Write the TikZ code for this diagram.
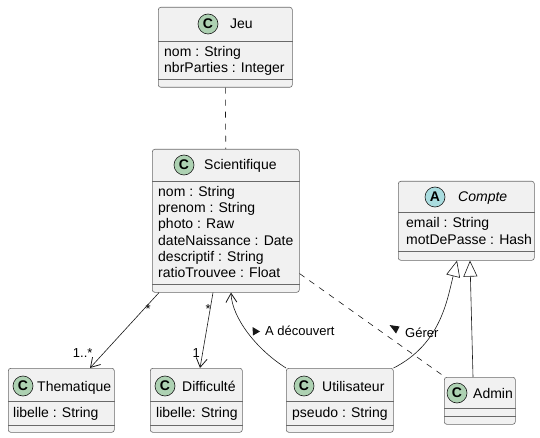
\documentclass[tikz,border=0pt]{standalone}
\usepackage{fontspec}
\setmainfont{Liberation Sans}
\usetikzlibrary{arrows.meta, positioning}

\definecolor{boxfill}{HTML}{F1F1F1}
\definecolor{boxline}{HTML}{181818}
\definecolor{classgreen}{HTML}{ADD1B2}
\definecolor{abstractblue}{HTML}{A9DCDF}

\tikzset{
	classbox/.style={draw=boxline!65, fill=boxfill, rounded corners=2.5pt, line width=0.6pt, anchor=north west, inner sep=0pt},
	sepline/.style={draw=boxline!65, line width=0.6pt},
	badge/.style={circle, draw=boxline, line width=0.6pt, minimum size=20pt, inner sep=0pt, font=\fontsize{14}{14}\selectfont\bfseries},
	cname/.style={anchor=west, inner sep=0pt, text height=12pt, text depth=2pt, font=\fontsize{14}{16}\selectfont},
	attr/.style={anchor=base west, inner sep=0pt, font=\fontsize{14}{16}\selectfont},
	mult/.style={inner sep=0pt, font=\fontsize{13}{15}\selectfont},
	lbl/.style={anchor=base west, inner sep=0pt, font=\fontsize{13}{15}\selectfont},
	assoc/.style={draw=boxline, line width=0.6pt, -{Straight Barb[length=9pt, width=11pt, line width=0.8pt]}},
	dashlink/.style={draw=boxline, line width=0.6pt, dash pattern=on 6pt off 6pt},
	inherit/.style={draw=boxline, line width=0.6pt, -{Triangle[open, length=16pt, width=14pt, fill=white]}}
}

\begin{document}
\begin{tikzpicture}[x=1pt, y=-1pt]
	\useasboundingbox (0,0) rectangle (540,438);

	% Jeu
	\node[classbox, minimum width=134, minimum height=80] (jeu) at (158,7) {};
	\foreach \s in {41,79}
		\draw[sepline] (jeu.west |- 0,\s) -- (jeu.east |- 0,\s);
	\node[badge, fill=classgreen] (jeu-c) at (208,24) {C};
	\node[cname] (jeu-n) at (230,24) {Jeu};
	\foreach \a [count=\i] in {nom : String, nbrParties : Integer}
		\node[attr] (jeu-a\i) at (164, 41+16*\i) {\a};

	% Scientifique
	\node[classbox, minimum width=147, minimum height=143] (sci) at (152,149) {};
	\foreach \s in {181,284}
		\draw[sepline] (sci.west |- 0,\s) -- (sci.east |- 0,\s);
	\node[badge, fill=classgreen] (sci-c) at (184,165) {C};
	\node[cname] (sci-n) at (204,165) {Scientifique};
	\foreach \a [count=\i] in {nom : String, prenom : String, photo : Raw, dateNaissance : Date, descriptif : String, ratioTrouvee : Float}
		\node[attr] (sci-a\i) at (158, 181+16*\i) {\a};

	% Compte
	\node[classbox, minimum width=136, minimum height=79] (compte) at (398,181) {};
	\foreach \s in {212,251}
		\draw[sepline] (compte.west |- 0,\s) -- (compte.east |- 0,\s);
	\node[badge, fill=abstractblue] (compte-c) at (435,197) {A};
	\node[cname, font=\fontsize{14}{16}\selectfont\itshape] (compte-n) at (458,197) {Compte};
	\foreach \a [count=\i] in {email : String, motDePasse : Hash}
		\node[attr] (compte-a\i) at (406, 212+16*\i) {\a};

	% Thematique
	\node[classbox, minimum width=106, minimum height=64] (thema) at (8,368) {};
	\foreach \s in {401,425}
		\draw[sepline] (thema.west |- 0,\s) -- (thema.east |- 0,\s);
	\node[badge, fill=classgreen] (thema-c) at (23,386) {C};
	\node[cname] (thema-n) at (37,386) {Thematique};
	\node[attr] (thema-a1) at (13,417) {libelle : String};

	% Difficulte
	\node[classbox, minimum width=92, minimum height=64] (diff) at (150,368) {};
	\foreach \s in {401,425}
		\draw[sepline] (diff.west |- 0,\s) -- (diff.east |- 0,\s);
	\node[badge, fill=classgreen] (diff-c) at (165,386) {C};
	\node[cname] (diff-n) at (182,386) {Difficulté};
	\node[attr] (diff-a1) at (156,417) {libelle: String};

	% Utilisateur
	\node[classbox, minimum width=107, minimum height=64] (user) at (286,368) {};
	\foreach \s in {401,425}
		\draw[sepline] (user.west |- 0,\s) -- (user.east |- 0,\s);
	\node[badge, fill=classgreen] (user-c) at (304,386) {C};
	\node[cname] (user-n) at (322,386) {Utilisateur};
	\node[attr] (user-a1) at (292,417) {pseudo : String};

	% Admin
	\node[classbox, minimum width=71, minimum height=47] (admin) at (444,377) {};
	\foreach \s in {408,416}
		\draw[sepline] (admin.west |- 0,\s) -- (admin.east |- 0,\s);
	\node[badge, fill=classgreen] (admin-c) at (457,393) {C};
	\node[cname] (admin-n) at (473,393) {Admin};

	% liens
	\draw[dashlink] (jeu.south) -- (sci.north);
	\draw[assoc] ([xshift=7pt]sci.south west) --
		node[mult, pos=0.18, xshift=1.5pt, yshift=-3pt] (m-th0) {*}
		node[mult, pos=0.8, left=11pt] (m-th1) {1..*}
		([xshift=82pt]thema.north west);
	\draw[assoc] ([xshift=61pt]sci.south west) --
		node[mult, pos=0.18, xshift=-2.5pt, yshift=-3pt] (m-di0) {*}
		node[mult, pos=0.8, left=2.5pt] (m-di1) {1}
		([xshift=50pt]diff.north west);
	\draw[assoc] (user.north west) .. controls +(-30,-19) and +(1,25) .. ([xshift=79pt]sci.south west);
	\draw[dashlink] ([yshift=19pt]sci.south east) -- ([xshift=1pt]admin.north west);
	\draw[inherit] (user.north east) .. controls +(47,-24) and +(-10,40) .. ([xshift=59pt]compte.south west);
	\draw[inherit] ([xshift=29pt]admin.north west) -- ([xshift=72pt]compte.south west);

	% libelles
	\node[lbl] (lbl-dec) at (265,335) {A découvert};
	\fill[boxline] (252.5,327) -- (260,331.5) -- (253,335.5) -- cycle;
	\node[lbl] (lbl-ger) at (405,337) {Gérer};
	\fill[boxline] (389.5,325) -- (399.5,326.5) -- (396,333.5) -- cycle;
\end{tikzpicture}
\end{document}
